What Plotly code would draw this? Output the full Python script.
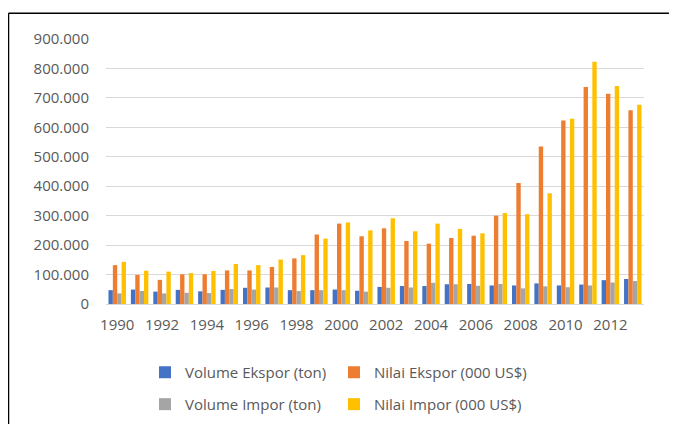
import plotly.graph_objects as go

years = list(range(1990, 2014))
volume_ekspor = [47000, 49000, 42000, 48000, 43000, 48000, 55000, 56000, 47000, 47000, 49000, 45000,
                 58000, 61000, 61000, 67000, 68000, 63000, 63000, 70000, 63000, 66000, 81000, 85000]
nilai_ekspor = [132000, 99000, 82000, 101000, 101000, 114000, 114000, 126000, 155000, 236000, 273000, 230000,
                257000, 214000, 205000, 224000, 232000, 300000, 411000, 535000, 623000, 737000, 714000, 658000]
volume_impor = [36000, 44000, 36000, 38000, 37000, 51000, 49000, 56000, 44000, 47000, 47000, 42000,
                55000, 56000, 72000, 67000, 62000, 68000, 53000, 60000, 57000, 63000, 73000, 78000]
nilai_impor = [143000, 113000, 110000, 105000, 112000, 136000, 132000, 151000, 166000, 222000, 277000, 250000,
               291000, 247000, 273000, 255000, 240000, 309000, 305000, 376000, 629000, 823000, 740000, 677000]

names = ["Volume Ekspor (ton)", "Nilai Ekspor (000 US$)", "Volume Impor (ton)", "Nilai Impor (000 US$)"]
colors = ["#4472C4", "#ED7D31", "#A5A5A5", "#FFC000"]
series = [volume_ekspor, nilai_ekspor, volume_impor, nilai_impor]
legends = ["legend", "legend2", "legend3", "legend4"]

FONT = dict(family="Open Sans", size=15, color="#595959")

fig = go.Figure()
for name, col, vals, lg in zip(names, colors, series, legends):
    fig.add_trace(go.Bar(x=years, y=vals, name=name, marker=dict(color=col, line=dict(width=0)),
                         legend=lg, showlegend=True))

# page body has an 8px margin; figure sized to fit the window
W, H = 669, 416
L, R, T, B = 98, 33, 30.5, 119.7
pw, ph = W - L - R, H - T - B

def px2x(px):
    return (px - L) / pw

def py2y(py):
    return (H - B - py) / ph

def leg(xpx, ypx):
    return dict(orientation="v", x=px2x(xpx), xanchor="left", y=py2y(ypx), yanchor="middle",
                font=FONT, bgcolor="rgba(0,0,0,0)")

fig.update_layout(
    width=W, height=H,
    showlegend=True,
    margin=dict(l=L, r=R, t=T, b=B, autoexpand=False),
    paper_bgcolor="white", plot_bgcolor="white",
    font=FONT,
    separators=",.",
    barmode="group", bargap=0.22, bargroupgap=0,
    legend=leg(137, 365),
    legend2=leg(326, 365),
    legend3=leg(137, 397),
    legend4=leg(326, 397),
    xaxis=dict(range=[1989.5, 2013.5], tick0=1990, dtick=2, showgrid=False, zeroline=False,
               showline=False, ticks="", ticklabelstandoff=10, tickfont=FONT),
    yaxis=dict(range=[0, 900000], dtick=100000, tickformat=",.0f", showgrid=True,
               gridcolor="#D9D9D9", gridwidth=1, zeroline=True, zerolinecolor="#D9D9D9",
               zerolinewidth=1, showline=False, ticks="", ticklabelstandoff=16, tickfont=FONT),
    shapes=[
        dict(type="line", xref="paper", yref="paper", x0=px2x(0.5), x1=px2x(700),
             y0=py2y(4.7), y1=py2y(4.7), line=dict(color="#000000", width=1.5)),
        dict(type="line", xref="paper", yref="paper", x0=px2x(0.5), x1=px2x(0.5),
             y0=py2y(4.7), y1=py2y(440), line=dict(color="#000000", width=1.5)),
    ],
)

fig.write_html("out.html")
